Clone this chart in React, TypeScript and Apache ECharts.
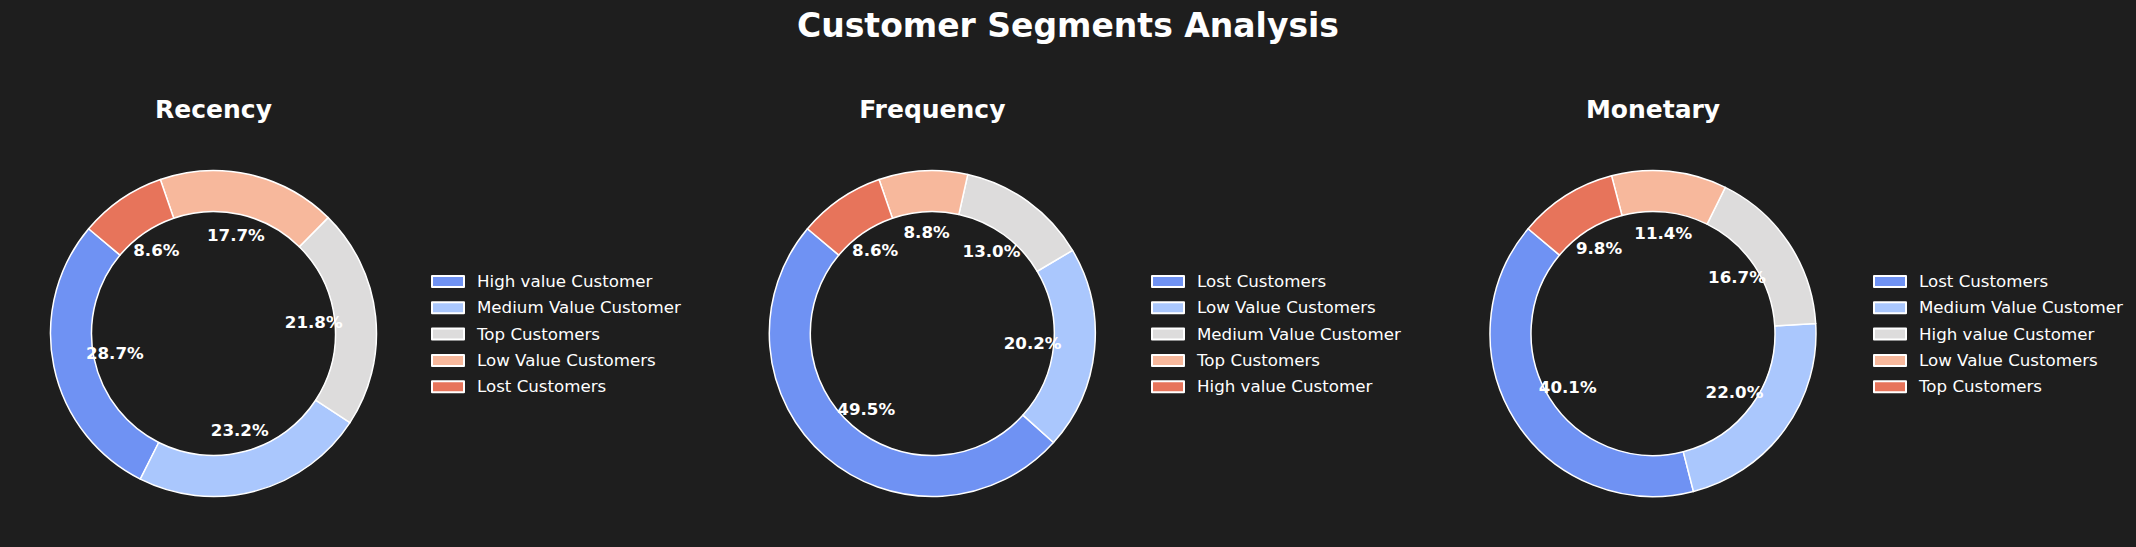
import React, { useEffect, useRef } from "react";
import * as echarts from "echarts";

const segmentColors = ["#6f92f3", "#aac7fd", "#dddcdc", "#f7b89c", "#e7745b"];

const mainTitle = "Customer Segments Analysis";
const panelTitles = ["Recency", "Frequency", "Monetary"];

const recencyNames = ["High value Customer", "Medium Value Customer", "Top Customers", "Low Value Customers", "Lost Customers"];
const recencyValues = [28.7, 23.2, 21.8, 17.7, 8.6];

const frequencyNames = ["Lost Customers", "Low Value Customers", "Medium Value Customer", "Top Customers", "High value Customer"];
const frequencyValues = [49.5, 20.2, 13.0, 8.8, 8.6];

const monetaryNames = ["Lost Customers", "Medium Value Customer", "High value Customer", "Low Value Customers", "Top Customers"];
const monetaryValues = [40.1, 22.0, 16.7, 11.4, 9.8];

const FONT = "DejaVu Sans";
const BG = "#1e1e1e";

export default function App() {
  const ref = useRef<HTMLDivElement | null>(null);

  useEffect(() => {
    if (!ref.current) return;
    const chart = echarts.init(ref.current, null, { renderer: "svg" });

    const panels = [
      { names: recencyNames, values: recencyValues, cx: 213.5, legendLeft: 431 },
      { names: frequencyNames, values: frequencyValues, cx: 932.3, legendLeft: 1151 },
      { names: monetaryNames, values: monetaryValues, cx: 1653, legendLeft: 1873 },
    ];
    const cy = 333.5;
    const outerR = 163;
    const innerR = 122;
    const labelR = outerR * 0.6;

    const series: any[] = [];
    const legends: any[] = [];
    const titles: any[] = [
      {
        text: mainTitle,
        left: 1068,
        top: 25,
        padding: 0,
        textAlign: "center",
        textVerticalAlign: "middle",
        textStyle: { color: "#ffffff", fontSize: 33, fontWeight: "bold", fontFamily: FONT },
      },
    ];

    panels.forEach((p, idx) => {
      titles.push({
        text: panelTitles[idx],
        left: p.cx,
        top: 109,
        padding: 0,
        textAlign: "center",
        textVerticalAlign: "middle",
        textStyle: { color: "#ffffff", fontSize: 25, fontWeight: "bold", fontFamily: FONT },
      });
      series.push({
        type: "pie",
        center: [p.cx, cy],
        radius: [innerR, outerR],
        startAngle: 140,
        clockwise: false,
        silent: true,
        label: { show: false },
        labelLine: { show: false },
        itemStyle: { borderColor: "#ffffff", borderWidth: 1.5 },
        data: p.names.map((n, i) => ({
          name: n,
          value: p.values[i],
          itemStyle: { color: segmentColors[i] },
        })),
      });
      series.push({
        type: "pie",
        center: [p.cx, cy],
        radius: [labelR - 10, labelR + 10],
        startAngle: 140,
        clockwise: false,
        silent: true,
        itemStyle: { color: "rgba(0,0,0,0)", borderWidth: 0 },
        labelLine: { show: false },
        label: {
          show: true,
          position: "inside",
          formatter: (prm: any) => Number(prm.value).toFixed(1) + "%",
          color: "#ffffff",
          fontSize: 16.67,
          fontWeight: "bold",
          fontFamily: FONT,
        },
        data: p.names.map((n, i) => ({ name: n, value: p.values[i] })),
      });
      legends.push({
        orient: "vertical",
        left: p.legendLeft,
        top: 273,
        padding: 0,
        icon: "rect",
        itemWidth: 32,
        itemHeight: 11,
        itemGap: 9.3,
        selectedMode: false,
        itemStyle: { borderColor: "#ffffff", borderWidth: 2 },
        textStyle: { color: "#ffffff", fontSize: 16.67, fontFamily: FONT, padding: [0, 0, 0, 8] },
        data: p.names.map((n, i) => ({ name: n, itemStyle: { color: segmentColors[i] } })),
      });
    });

    chart.setOption({
      animation: false,
      backgroundColor: BG,
      title: titles,
      legend: legends,
      series,
    });

    return () => chart.dispose();
  }, []);

  return (
    <div
      ref={ref}
      style={{ position: "absolute", left: 0, top: 0, width: 2136, height: 547, background: BG }}
    />
  );
}
